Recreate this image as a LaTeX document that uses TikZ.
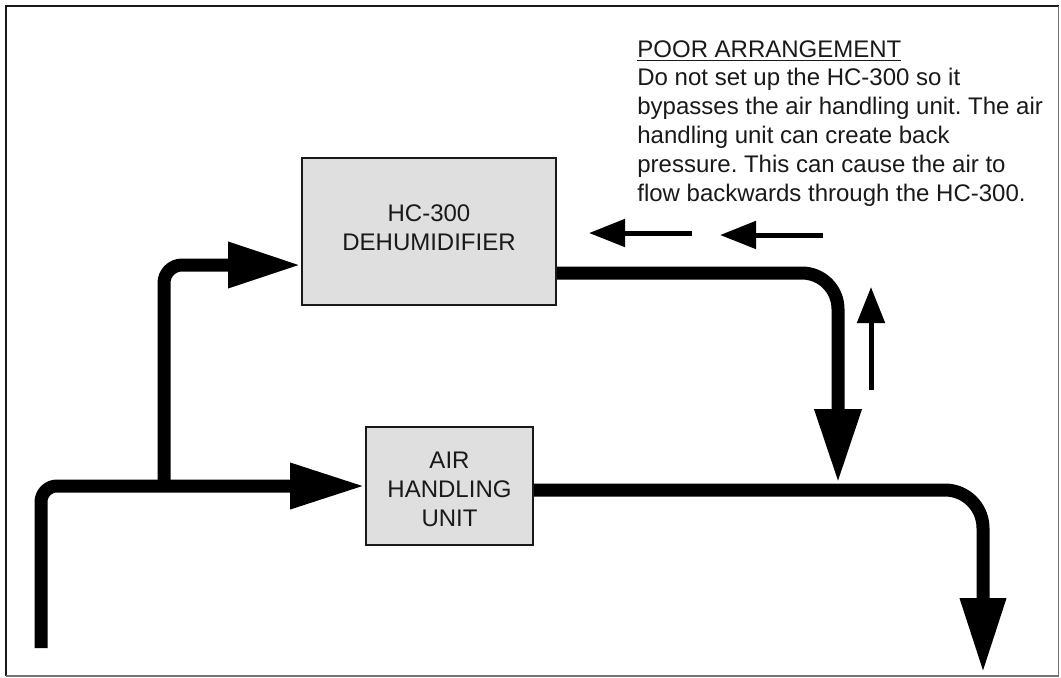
\documentclass[tikz,border=0pt]{standalone}
\usepackage{fontspec}
\setmainfont{Liberation Sans}
\usetikzlibrary{arrows.meta}
\definecolor{boxgray}{gray}{0.875}
\definecolor{ink}{gray}{0.1}
\frenchspacing
\begin{document}
\begin{tikzpicture}[x=0.5pt,y=-0.5pt,
  unitbox/.style={draw=ink, line width=1pt, fill=boxgray, inner sep=0pt},
  lbl/.style={font=\fontsize{12pt}{14.5pt}\selectfont, align=center, inner sep=0pt, text=ink},
  note/.style={font=\fontsize{12pt}{14.4pt}\selectfont\frenchspacing, align=left, inner sep=0pt, text=ink, anchor=north west},
  pipe/.style={line width=6.5pt, line join=round},
  bigtip/.style={-{Triangle[length=37.5pt,width=21.5pt]}},
  smallarrow/.style={line width=2.5pt, -{Triangle[length=18pt,width=13.5pt]}}
]
\useasboundingbox (0,0) rectangle (1061,677);
% frame
\draw[line width=1.25pt, ink] (6,675.5) -- (6,6) -- (1058.5,6);
\draw[line width=0.8pt, black!55] (1058.5,6) -- (1058.5,676) -- (6,676);

% units
\node[unitbox, minimum width=127pt, minimum height=73.5pt] (dh) at (429,231.5) {};
\node[unitbox, minimum width=83.5pt, minimum height=59pt] (ahu) at (449.5,486) {};
\node[lbl] (dhtxt) at (429,228) {HC-300\\DEHUMIDIFIER};
\node[lbl] (ahutxt) at (449.5,489) {AIR\\HANDLING\\UNIT};

% coordinates
\coordinate (src) at (41,648);
\coordinate (c1) at (41,486);
\coordinate (jn) at (164,486);
\coordinate (dhy) at (0,265);
\coordinate (dhoy) at (0,273);
\coordinate (merge) at (838,483);
\coordinate (ahoy) at (0,490);
\coordinate (outlet) at (983,673);

% pipes
\draw[pipe, bigtip, rounded corners=8pt] (src) -- (c1) -- (ahu.west);
\draw[pipe, -{Triangle[length=36.5pt,width=21.5pt]}, rounded corners=9pt] (jn) |- (dh.west |- dhy);
\draw[pipe, -{Triangle[length=37pt,width=22pt]}, rounded corners=18pt] (dh.east |- dhoy) -| (merge);
\draw[pipe, bigtip, rounded corners=19pt] (ahu.east |- ahoy) -| (outlet);

% back-flow arrows
\coordinate (ua1) at (871,390);
\coordinate (ua2) at (871,287);
\coordinate (la1) at (692,233);
\coordinate (la2) at (589,233);
\coordinate (lb1) at (823,235);
\coordinate (lb2) at (720,235);
\draw[smallarrow] (ua1) -- (ua2);
\draw[smallarrow] (la1) -- (la2);
\draw[smallarrow] (lb1) -- (lb2);

% note
\node[note] (txt) at (637,40) {\underline{POOR ARRANGEMENT}\\Do not set up the HC-300 so it\\bypasses the air handling unit. The air\\handling unit can create back\\pressure. This can cause the air to\\flow backwards through the HC-300.};
\end{tikzpicture}
\end{document}
